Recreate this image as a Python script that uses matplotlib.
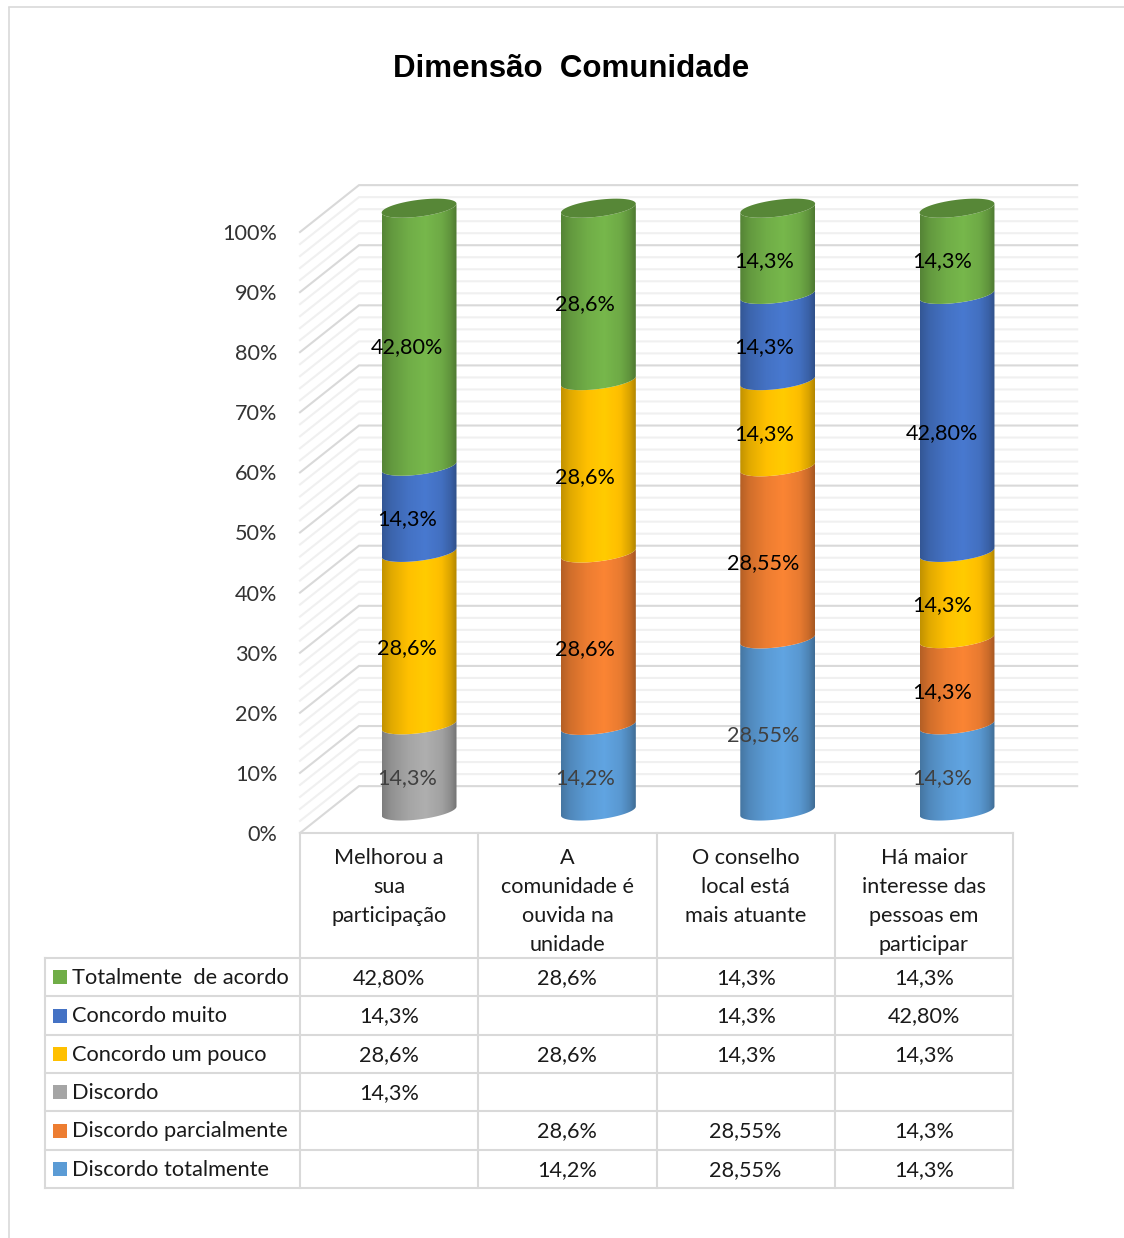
#!/usr/bin/env python3

import numpy as np
import matplotlib
matplotlib.use("Agg")
import matplotlib.pyplot as plt
from matplotlib.colors import to_rgb
from matplotlib.lines import Line2D
from matplotlib.path import Path

plt.rcParams['font.family'] = ['Lato', 'DejaVu Sans']

W, H = 1124, 1238

TITLE = "Dimensão  Comunidade"
CATEGORIES = ["Melhorou a\nsua\nparticipação",
              "A\ncomunidade é\nouvida na\nunidade",
              "O conselho\nlocal está\nmais atuante",
              "Há maior\ninteresse das\npessoas em\nparticipar"]

# table rows, top to bottom
SERIES_NAMES = ["Totalmente  de acordo", "Concordo muito", "Concordo um pouco",
                "Discordo", "Discordo parcialmente", "Discordo totalmente"]
totalmente = [42.80, 28.6, 14.3, 14.3]
muito = [14.3, None, 14.3, 42.80]
um_pouco = [28.6, 28.6, 14.3, 14.3]
discordo = [14.3, None, None, None]
parcialmente = [None, 28.6, 28.55, 14.3]
disc_total = [None, 14.2, 28.55, 14.3]
SERIES = [totalmente, muito, um_pouco, discordo, parcialmente, disc_total]

COLORS = ["#70AD47", "#4472C4", "#FFC000", "#A5A5A5", "#ED7D31", "#5B9BD5"]
LABEL_COLORS = ["black", "black", "black", "#404040", "black", "#404040"]
GRID_MAJOR = "#D9D9D9"
GRID_MINOR = "#F0F0F0"
TEXT_SIZE = 15.6

# depth of the fake 3D box, in data units
DEPTH_X, DEPTH_Y = 0.331, 7.8
CYL_X, CYL_Y = 0.168, 3.66
CYL_STEP = 1.006
CYL_SCALE = 1.003
CYL_A, CYL_B, CYL_TILT = 0.21, 1.4, 0.75


def fmt(v):
    s = f"{v:.2f}" if v in (42.80, 28.55) else f"{v:.1f}"
    return s.replace(".", ",") + "%"


def arc(cx, cy, t0, t1):
    t = np.linspace(t0, t1, 60)
    x = cx + CYL_A * np.cos(t)
    y = cy + CYL_TILT * np.cos(t) + CYL_B * np.sin(t)
    return np.column_stack([x, y])


def shaded(color):
    # dark at the rims, bright a little right of the middle
    u = np.linspace(0, 1, 120)
    k = np.interp(u, [0, 0.12, 0.35, 0.58, 0.8, 0.92, 1],
                  [0.76, 0.88, 1.0, 1.06, 0.98, 0.85, 0.70])
    return np.clip(np.outer(k, to_rgb(color)), 0, 1)[np.newaxis, :, :]


def draw_walls(ax):
    for v in range(0, 101, 2):
        major = v % 10 == 0
        c = GRID_MAJOR if major else GRID_MINOR
        z = 1.5 if major else 1
        ax.plot([0, DEPTH_X, 4.36], [v, v + DEPTH_Y, v + DEPTH_Y], color=c, lw=1.5,
                clip_on=False, zorder=z, solid_joinstyle="miter")


def draw_cylinders(ax):
    for i in range(len(CATEGORIES)):
        cx = i * CYL_STEP + 0.5 + CYL_X
        bottom = 0.0
        # the table lists the stack from the top down
        for s in range(len(SERIES) - 1, -1, -1):
            v = SERIES[s][i]
            if v is None:
                continue
            top = bottom + v
            y0, y1 = bottom * CYL_SCALE + CYL_Y, top * CYL_SCALE + CYL_Y
            lower = arc(cx, y0, np.pi, 2 * np.pi)
            upper = arc(cx, y1, 2 * np.pi, np.pi)
            im = ax.imshow(shaded(COLORS[s]), aspect="auto", zorder=3, interpolation="bilinear",
                           extent=(cx - CYL_A, cx + CYL_A, y0 - 5, y1 + 5))
            im.set_clip_path(Path(np.vstack([lower, upper])), ax.transData)
            im.set_clip_box(ax.figure.bbox)
            ax.text(i + 0.5 + CYL_X - 0.067, (y0 + y1) / 2 - 1.66, fmt(v), color=LABEL_COLORS[s],
                    ha="center", va="center", fontsize=TEXT_SIZE, zorder=5)
            bottom = top
            if s == 0 or all(SERIES[k][i] is None for k in range(s)):
                cap = arc(cx, y1, 0, 2 * np.pi)
                ax.fill(cap[:, 0], cap[:, 1], color=np.array(to_rgb(COLORS[s])) * 0.78,
                        clip_on=False, zorder=4, lw=0)


def draw_table(ax):
    n = len(SERIES)
    left = -255 / 178.25
    head = -125 / 38.33
    kw = dict(color=GRID_MAJOR, lw=1.5, clip_on=False, solid_capstyle="projecting")
    ax.plot([0, 4], [head, head], **kw)
    for r in range(n + 1):
        ax.plot([left, 4], [r, r], **kw)
    ax.plot([left, left], [0, n], **kw)
    for c in range(5):
        ax.plot([c, c], [head, n], **kw)

    for c, name in enumerate(CATEGORIES):
        ax.text(c + 0.5, head + 0.38, name, ha="center", va="top", fontsize=TEXT_SIZE,
                color="#1a1a1a", linespacing=1.58)

    for r, name in enumerate(SERIES_NAMES):
        ax.plot([left + 15 / 178.25], [r + 0.5], "s", ms=10, mew=0, color=COLORS[r], clip_on=False)
        ax.text(left + 27.5 / 178.25, r + 0.52, name, ha="left", va="center",
                fontsize=TEXT_SIZE * 1.01, color="#1a1a1a")
        for c, v in enumerate(SERIES[r]):
            if v is not None:
                ax.text(c + 0.5, r + 0.52, fmt(v), ha="center", va="center",
                        fontsize=TEXT_SIZE, color="#1a1a1a")


def main():
    fig = plt.figure(figsize=(W / 100, H / 100), dpi=100)

    # page border
    for xs, ys in [([9, 9], [8, H]), ([9, W], [7, 7])]:
        fig.add_artist(Line2D(np.array(xs) / W, 1 - np.array(ys) / H, color=GRID_MAJOR, lw=1.2))

    fig.text(571 / W, 1 - 69 / H, TITLE, ha="center", va="center", fontsize=22.5,
             fontweight="bold", family="Liberation Sans", color="black")

    ax = fig.add_axes([300 / W, 1 - 833 / H, 713 / W, 601 / H])
    ax.patch.set_visible(False)
    for sp in ax.spines.values():
        sp.set_visible(False)
    draw_walls(ax)
    draw_cylinders(ax)
    ax.set_xlim(0, 4)
    ax.set_ylim(0, 100)
    ax.set_xticks([])
    ax.set_yticks(range(0, 101, 10), [f"{v}%" for v in range(0, 101, 10)])
    ax.tick_params(axis="y", length=0, pad=16.5, labelsize=TEXT_SIZE, labelcolor="#333333")

    tab = fig.add_axes([45 / W, 1 - 1188 / H, 968 / W, 355 / H])
    tab.axis("off")
    tab.set_xlim(-255 / 178.25, 4)
    tab.set_ylim(6, -125 / 38.33)
    draw_table(tab)

    fig.savefig("out.png", dpi=100)


if __name__ == "__main__":
    main()
